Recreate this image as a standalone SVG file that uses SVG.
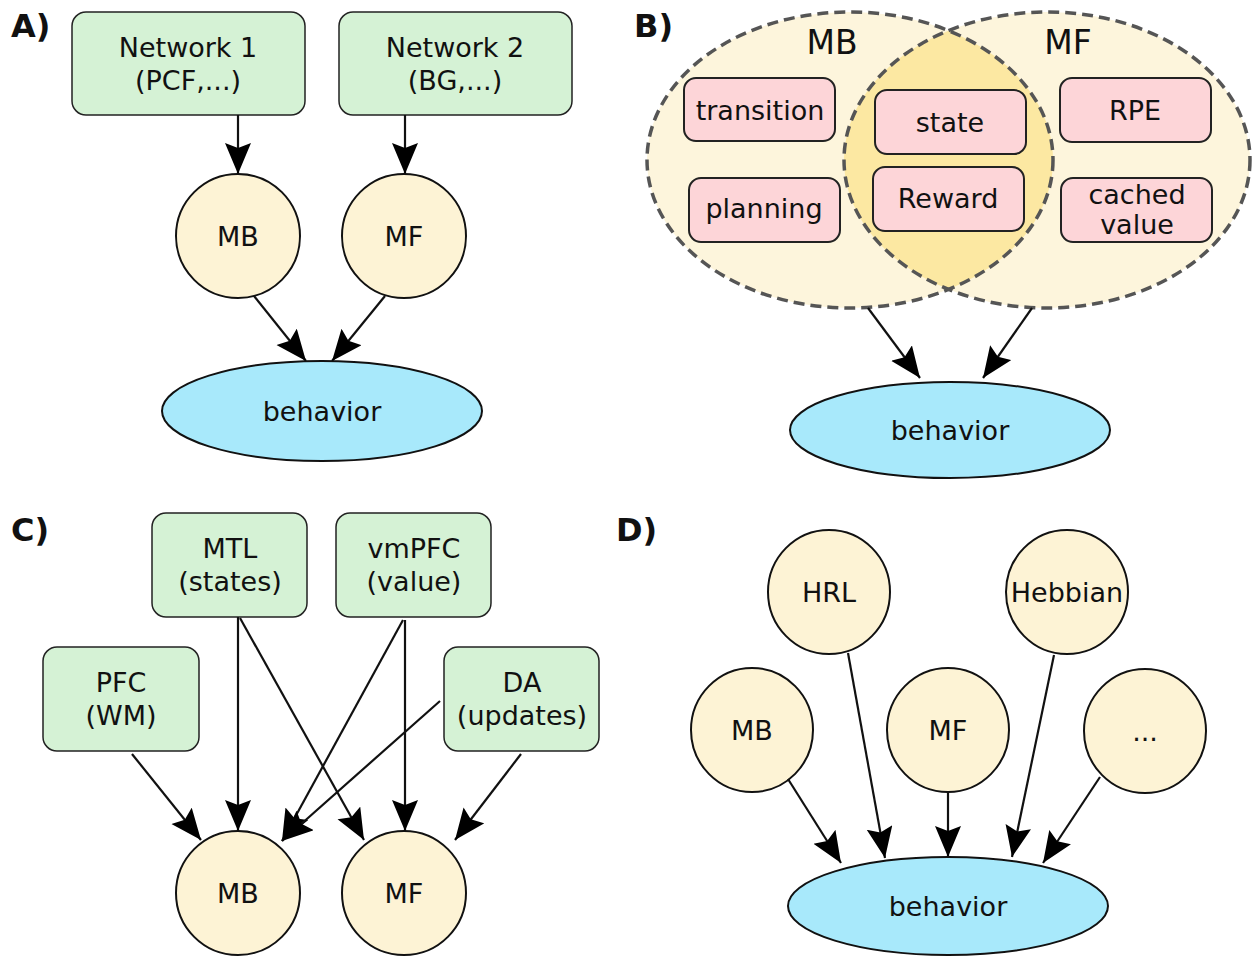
<svg xmlns="http://www.w3.org/2000/svg" width="1256" height="956" viewBox="0 0 1256 956">
<style>
text{font-family:"DejaVu Sans","Noto Sans",sans-serif;font-size:27px;fill:#111;text-anchor:middle}
.lab{font-weight:bold;font-size:32px;text-anchor:start}
.vl{font-size:33px}
.g{fill:#d5f2d5;stroke:#222;stroke-width:1.5}
.c{fill:#fdf3d5;stroke:#111;stroke-width:2}
.bh{fill:#a8e9fb;stroke:#111;stroke-width:2}
.p{fill:#fdd5d8;stroke:#222;stroke-width:2}
.e{stroke:#111;stroke-width:2.2;fill:none;marker-end:url(#ah)}
.v{fill:none;stroke:#555;stroke-width:3.5;stroke-dasharray:11 6}
</style>
<defs>
<marker id="ah" markerUnits="userSpaceOnUse" markerWidth="34" markerHeight="28" refX="31" refY="13" orient="auto">
<path d="M0,0 L31,13 L0,26 L5,13 Z" fill="#000"/>
</marker>
<clipPath id="lc"><ellipse cx="850" cy="160" rx="203" ry="148"/></clipPath>
</defs>
<rect width="1256" height="956" fill="#fff"/>

<text class="lab" x="11" y="37">A)</text>
<text class="lab" x="634" y="37">B)</text>
<text class="lab" x="11" y="541">C)</text>
<text class="lab" x="616" y="541">D)</text>

<!-- Panel A -->
<g id="a-net1"><rect class="g" x="72" y="12" width="233" height="103" rx="14"/><text x="188" y="57">Network 1</text><text x="188" y="90">(PCF,...)</text></g>
<g id="a-net2"><rect class="g" x="339" y="12" width="233" height="103" rx="14"/><text x="455" y="57">Network 2</text><text x="455" y="90">(BG,...)</text></g>
<g id="a-mb"><ellipse class="c" cx="238" cy="236" rx="62" ry="62"/><text x="238" y="246">MB</text></g>
<g id="a-mf"><ellipse class="c" cx="404" cy="236" rx="62" ry="62"/><text x="404" y="246">MF</text></g>
<g id="a-beh"><ellipse class="bh" cx="322" cy="411" rx="160" ry="50"/><text x="322" y="421">behavior</text></g>

<!-- Panel B -->
<g id="b-venn">
<ellipse cx="850" cy="160" rx="203" ry="148" fill="#fdf5dc"/>
<ellipse cx="1047" cy="160" rx="203" ry="148" fill="#fdf5dc"/>
<ellipse cx="1047" cy="160" rx="203" ry="148" fill="#fce8a2" clip-path="url(#lc)"/>
<ellipse class="v" cx="850" cy="160" rx="203" ry="148"/>
<ellipse class="v" cx="1047" cy="160" rx="203" ry="148"/>
<text class="vl" x="832" y="54">MB</text>
<text class="vl" x="1068" y="54">MF</text>
</g>
<g id="b-transition"><rect class="p" x="684" y="78" width="151" height="63" rx="12"/><text x="760" y="120">transition</text></g>
<g id="b-state"><rect class="p" x="875" y="90" width="151" height="64" rx="12"/><text x="950" y="132">state</text></g>
<g id="b-rpe"><rect class="p" x="1060" y="78" width="151" height="64" rx="12"/><text x="1135" y="120">RPE</text></g>
<g id="b-planning"><rect class="p" x="689" y="178" width="151" height="64" rx="12"/><text x="764" y="218">planning</text></g>
<g id="b-reward"><rect class="p" x="873" y="167" width="151" height="64" rx="12"/><text x="948" y="208">Reward</text></g>
<g id="b-cached"><rect class="p" x="1061" y="178" width="151" height="64" rx="12"/><text x="1137" y="204">cached</text><text x="1137" y="234">value</text></g>
<g id="b-beh"><ellipse class="bh" cx="950" cy="430" rx="160" ry="48"/><text x="950" y="440">behavior</text></g>

<!-- Panel C -->
<g id="c-mtl"><rect class="g" x="152" y="513" width="155" height="104" rx="14"/><text x="230" y="558">MTL</text><text x="230" y="591">(states)</text></g>
<g id="c-vmpfc"><rect class="g" x="336" y="513" width="155" height="104" rx="14"/><text x="414" y="558">vmPFC</text><text x="414" y="591">(value)</text></g>
<g id="c-pfc"><rect class="g" x="43" y="647" width="156" height="104" rx="14"/><text x="121" y="692">PFC</text><text x="121" y="725">(WM)</text></g>
<g id="c-da"><rect class="g" x="444" y="647" width="155" height="104" rx="14"/><text x="522" y="692">DA</text><text x="522" y="725">(updates)</text></g>
<g id="c-mb"><ellipse class="c" cx="238" cy="893" rx="62" ry="62"/><text x="238" y="903">MB</text></g>
<g id="c-mf"><ellipse class="c" cx="404" cy="893" rx="62" ry="62"/><text x="404" y="903">MF</text></g>

<!-- Panel D -->
<g id="d-hrl"><ellipse class="c" cx="829" cy="592" rx="61" ry="62"/><text x="829" y="602">HRL</text></g>
<g id="d-hebb"><ellipse class="c" cx="1067" cy="592" rx="61" ry="62"/><text x="1067" y="602">Hebbian</text></g>
<g id="d-mb"><ellipse class="c" cx="752" cy="730" rx="61" ry="62"/><text x="752" y="740">MB</text></g>
<g id="d-mf"><ellipse class="c" cx="948" cy="730" rx="61" ry="62"/><text x="948" y="740">MF</text></g>
<g id="d-more"><ellipse class="c" cx="1145" cy="731" rx="61" ry="62"/><text x="1145" y="741">...</text></g>
<g id="d-beh"><ellipse class="bh" cx="948" cy="906" rx="160" ry="49"/><text x="948" y="916">behavior</text></g>

<g id="connectors">
<line class="e" x1="238" y1="115" x2="238" y2="174"/>
<line class="e" x1="405" y1="115" x2="405" y2="174"/>
<line class="e" x1="254" y1="296" x2="306" y2="361"/>
<line class="e" x1="385" y1="296" x2="332" y2="361"/>
<line class="e" x1="868" y1="308" x2="920" y2="378"/>
<line class="e" x1="1032" y1="308" x2="983" y2="378"/>
<line class="e" x1="132" y1="754" x2="201" y2="840"/>
<line class="e" x1="238" y1="617" x2="238" y2="831"/>
<line class="e" x1="240" y1="618" x2="364" y2="840"/>
<line class="e" x1="403" y1="620" x2="282" y2="841"/>
<line class="e" x1="405" y1="620" x2="405" y2="831"/>
<line class="e" x1="440" y1="701" x2="282" y2="841"/>
<line class="e" x1="521" y1="754" x2="455" y2="840"/>
<line class="e" x1="788" y1="779" x2="841" y2="863"/>
<line class="e" x1="848" y1="653" x2="885" y2="858"/>
<line class="e" x1="948" y1="792" x2="948" y2="857"/>
<line class="e" x1="1054" y1="655" x2="1012" y2="857"/>
<line class="e" x1="1100" y1="777" x2="1043" y2="863"/>
</g>
</svg>
